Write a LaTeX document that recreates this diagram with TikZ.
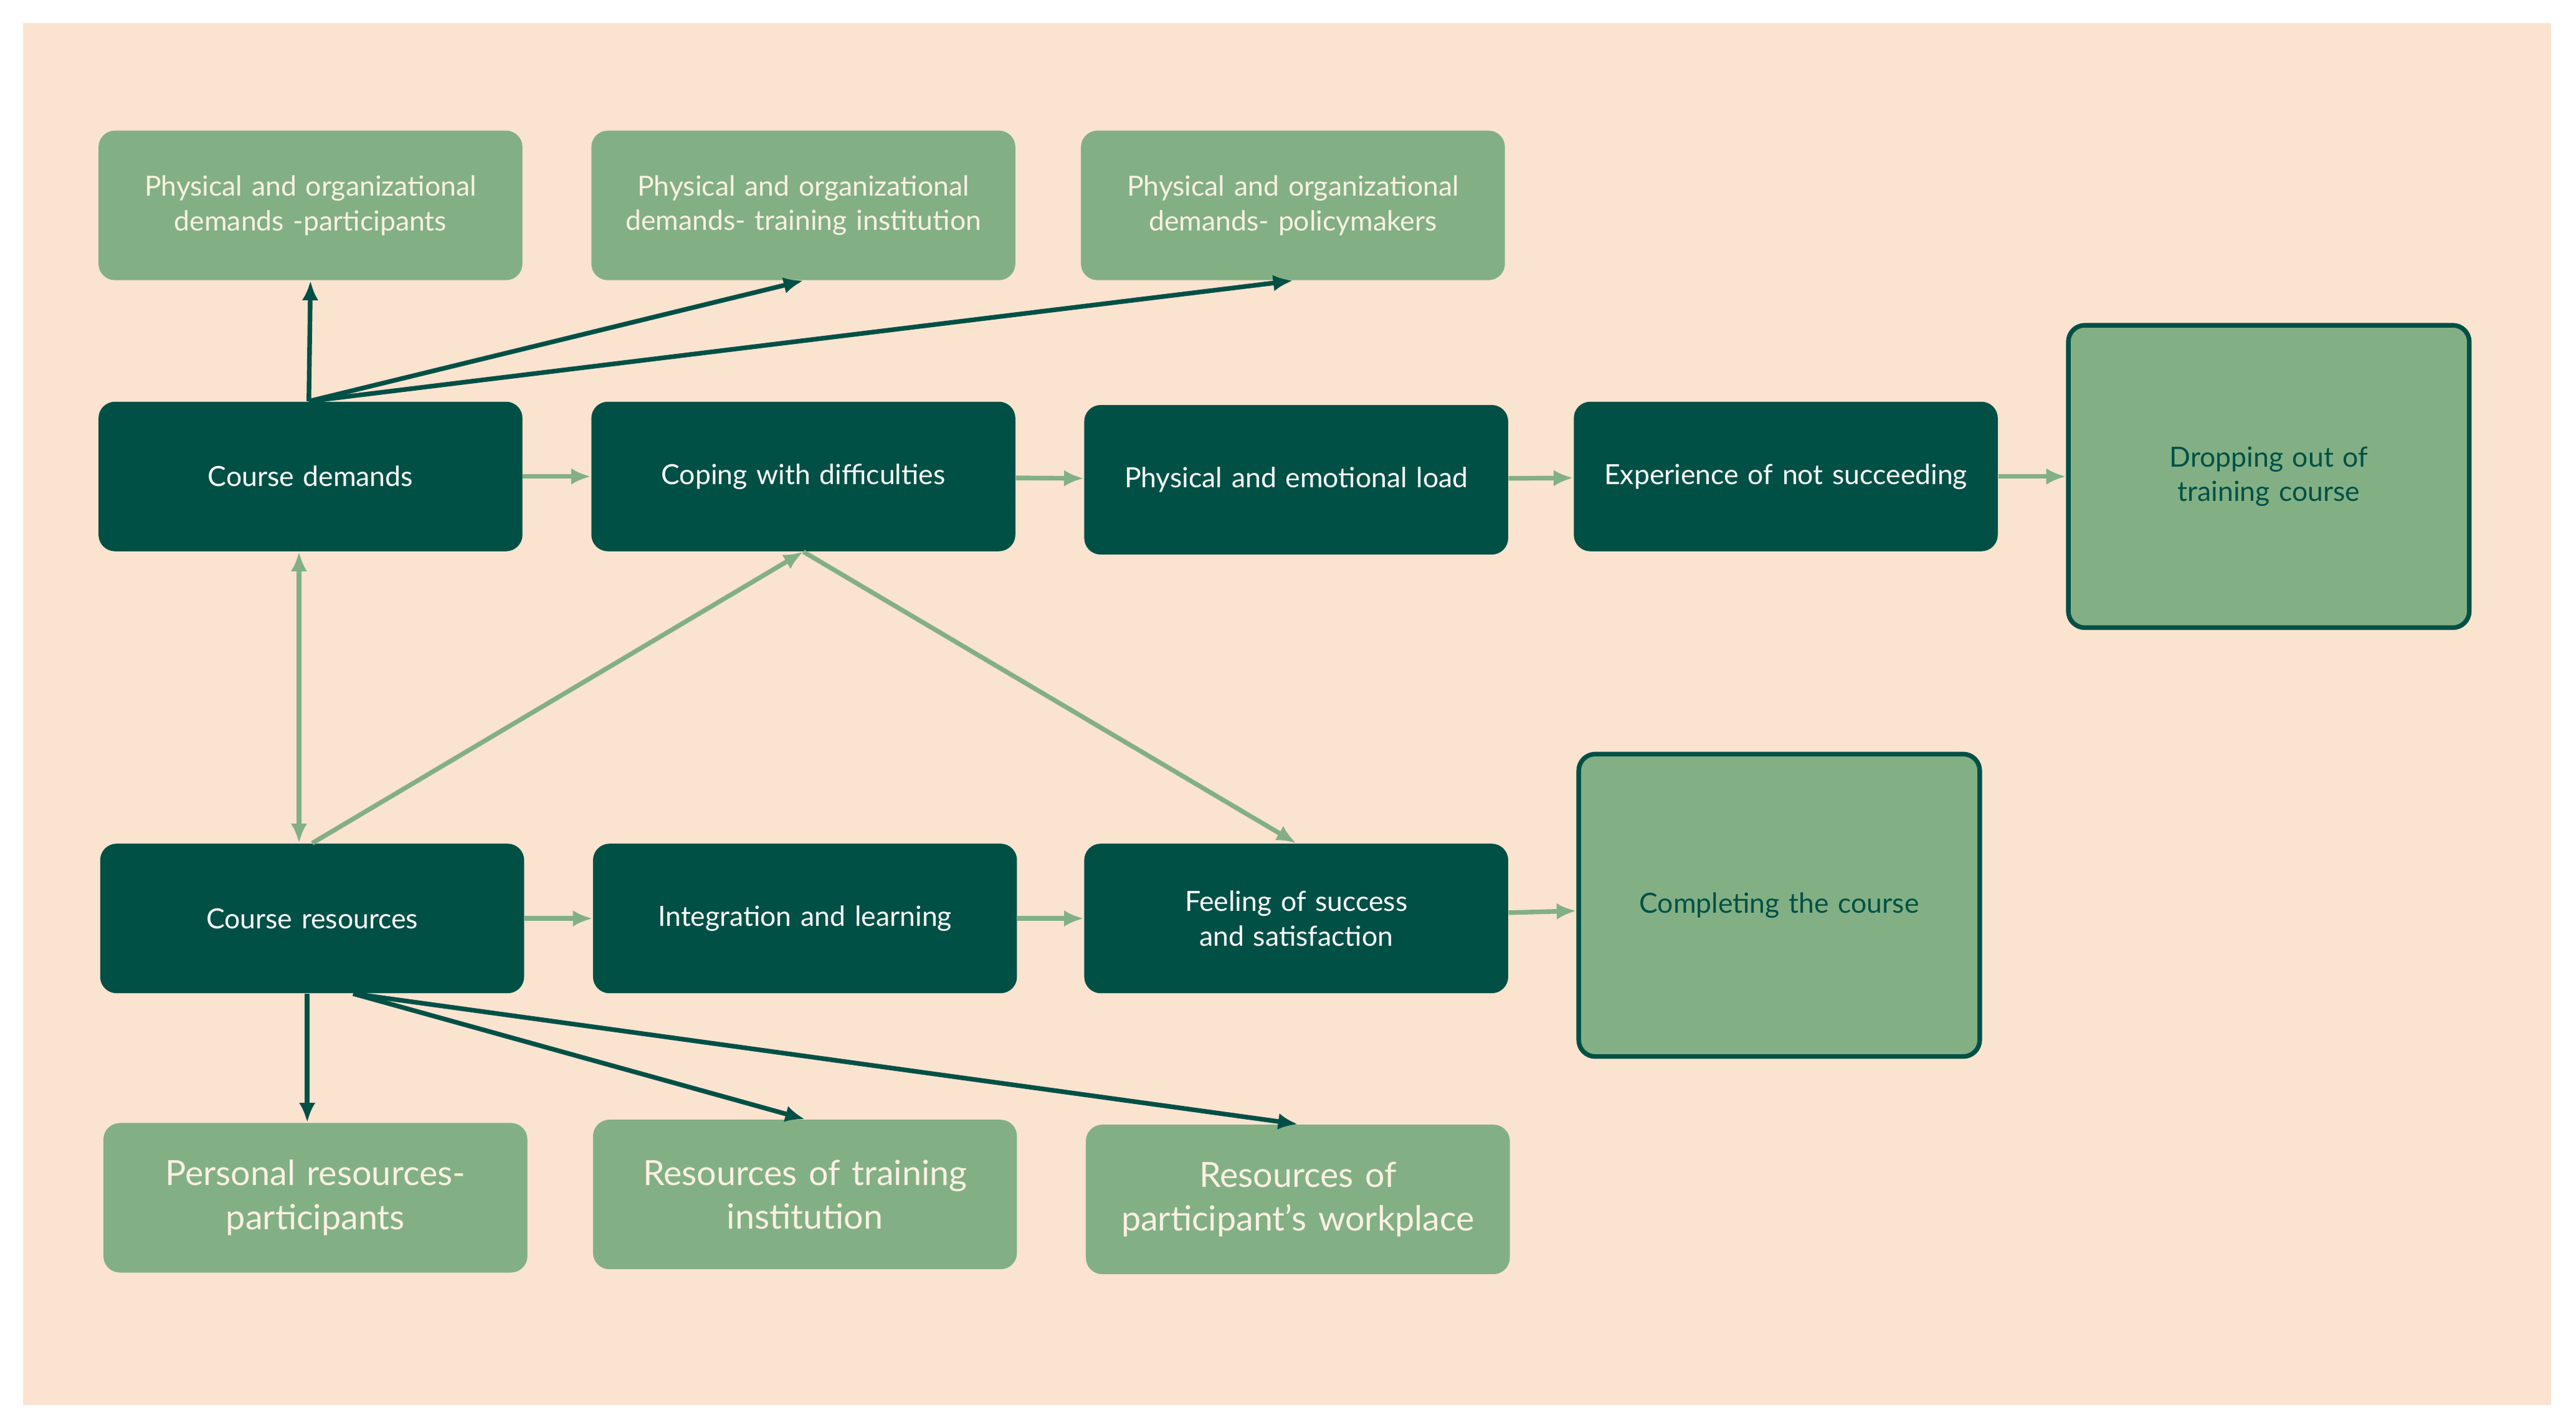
\documentclass[tikz,border=0pt]{standalone}
\usepackage{fontspec}
\setmainfont{Lato}
\usetikzlibrary{arrows.meta, positioning}
\definecolor{colorDark}{RGB}{0,80,70}
\definecolor{colorLight}{RGB}{130,176,132}
\definecolor{colorPeach}{RGB}{250,227,207}
\definecolor{colorCream}{RGB}{250,240,225}
\tikzset{
  darkbox/.style={rectangle, rounded corners=0.25cm, fill=colorDark, text=white, minimum width=6.45cm, minimum height=2.275cm, text width=6.1cm, align=center, font=\fontsize{12}{15}\selectfont},
  lightbox/.style={rectangle, rounded corners=0.25cm, fill=colorLight, text=colorCream, minimum width=6.45cm, minimum height=2.275cm, text width=6.1cm, align=center, font=\fontsize{12}{15}\selectfont},
  bigbox/.style={rectangle, rounded corners=0.25cm, fill=colorLight, draw=colorDark, line width=2pt, text=colorDark, minimum width=6.1cm, minimum height=4.6cm, text width=5.6cm, align=center, font=\fontsize{12}{15}\selectfont},
  darkarrow/.style={-{Latex[length=0.3cm,width=0.25cm]}, colorDark, line width=2pt},
  lightarrow/.style={-{Latex[length=0.3cm,width=0.25cm]}, colorLight, line width=2pt},
}
\begin{document}
\begin{tikzpicture}[x=0.025cm, y=-0.025cm]
\fill[white] (0,0) rectangle (1568,869);
\fill[colorPeach] (14,14) rectangle (1553,855);
% top row
\node[lightbox] (demPart) at (189,125) {Physical and organizational demands -participants};
\node[lightbox] (demInst) at (489,125) {Physical and organizational demands- training institution};
\node[lightbox] (demPol) at (787,125) {Physical and organizational demands- policymakers};
% middle rows
\node[darkbox] (demands) at (189,290) {Course demands};
\node[darkbox] (coping) at (489,290) {Coping with difficulties\\[1.6em]};
\node[darkbox] (load) at (789,292) {Physical and emotional load};
\node[darkbox] (notSucc) at (1087,290) {Experience of not succeeding\\[1.6em]};
\node[bigbox] (dropOut) at (1381,290) {Dropping out of training course};
\node[darkbox] (resources) at (190,559) {Course resources};
\node[darkbox] (integr) at (490,559) {Integration and learning};
\node[darkbox] (success) at (789,559) {Feeling of success and satisfaction};
\node[bigbox] (complete) at (1083,551) {Completing the course};
% bottom row
\node[lightbox, font=\fontsize{15}{19}\selectfont] (resPers) at (192,729) {Personal resources-\\participants};
\node[lightbox, font=\fontsize{15}{19}\selectfont] (resInst) at (490,727) {Resources of training\\institution};
\node[lightbox, font=\fontsize{15}{19}\selectfont] (resWork) at (790,730) {Resources of\\participant’s workplace};
% connectors
\draw[darkarrow] (demands.north) ++(-1,0) coordinate (dTop) -- (demPart.south);
\draw[darkarrow] (dTop) -- (demInst.south);
\draw[darkarrow] (dTop) -- (demPol.south);
\draw[lightarrow] (demands) -- (coping);
\draw[lightarrow] (coping) -- (load);
\draw[lightarrow] (load) -- (notSucc);
\draw[lightarrow] (notSucc) -- (dropOut);
\draw[lightarrow] (resources) -- (integr);
\draw[lightarrow] (integr) -- (success);
\draw[lightarrow] (success) -- (complete);
\draw[lightarrow, {Latex[length=0.3cm,width=0.25cm]}-{Latex[length=0.3cm,width=0.25cm]}] (demands.south) ++(-7,0) coordinate (dBot) -- (dBot |- resources.north);
\draw[lightarrow] (resources.north) -- (coping.south);
\draw[lightarrow] (coping.south) -- (success.north);
\draw[darkarrow] (resources.south) ++(-3,0) coordinate (rBot) -- (rBot |- resPers.north);
\draw[darkarrow] (resources.south) ++(25,0) coordinate (rDiag) -- (resInst.north);
\draw[darkarrow] (rDiag) -- (resWork.north);
\end{tikzpicture}
\end{document}
